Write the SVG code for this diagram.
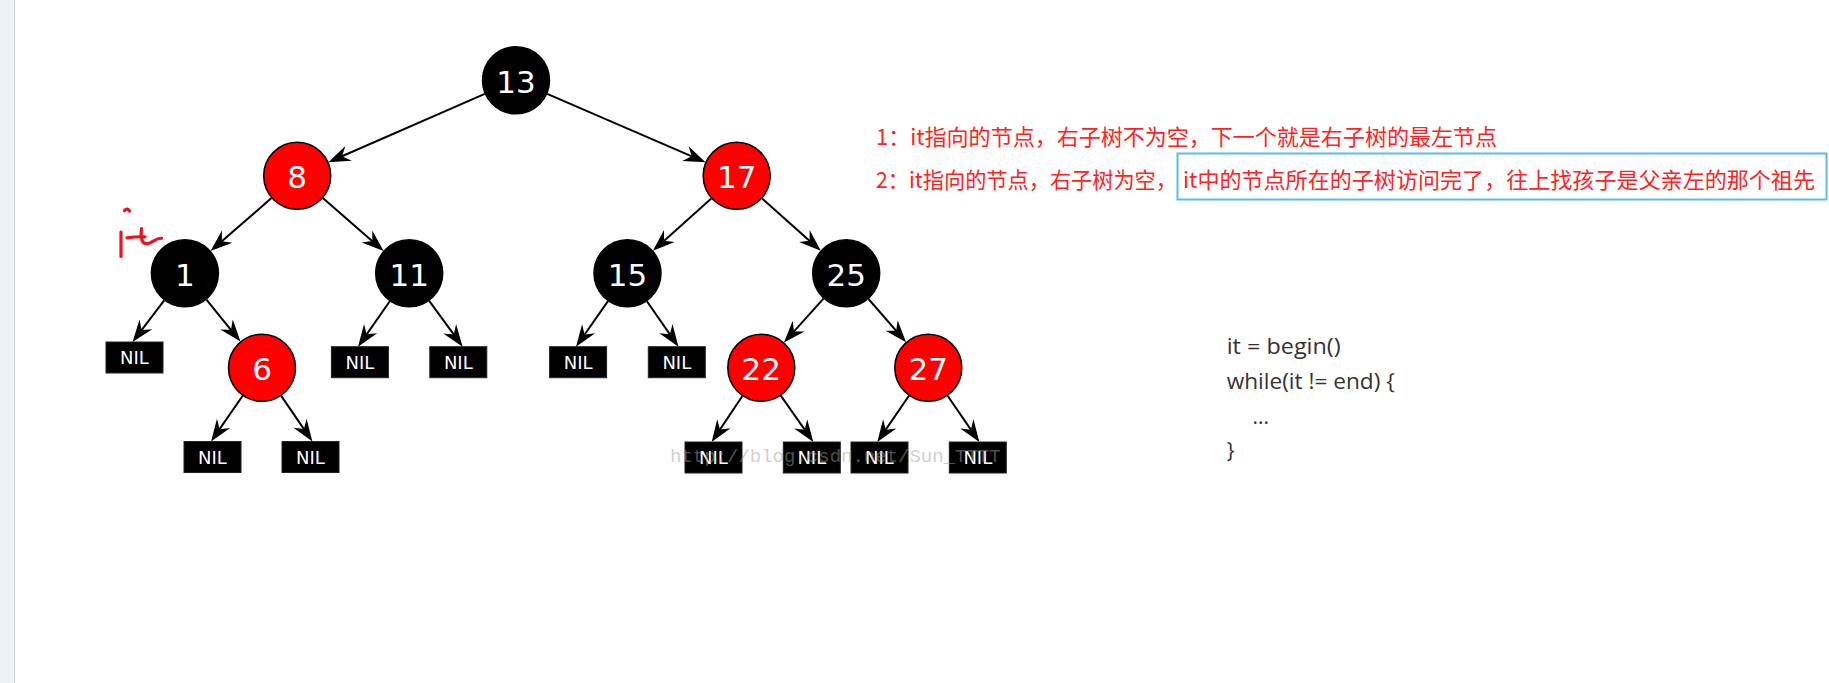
<svg xmlns="http://www.w3.org/2000/svg" width="1829" height="683" viewBox="0 0 1829 683">
<style>
.edge{stroke:#000;stroke-width:2;fill:none;marker-end:url(#arr)}
.blk{fill:#000;stroke:#000;stroke-width:1.5}
.red{fill:#f00;stroke:#000;stroke-width:1.5}
.lbl{font-family:"DejaVu Sans",sans-serif;font-size:31px;fill:#fff;text-anchor:middle}
.nil rect{fill:#000;stroke:#222;stroke-width:1}
.nil text{font-family:"DejaVu Sans",sans-serif;font-size:18px;fill:#fff;text-anchor:middle}
.note{font-family:"Noto Sans CJK SC","Noto Sans",sans-serif;font-size:22px;fill:#f22}
.code{font-family:"Open Sans","Noto Sans",sans-serif;font-size:21px;fill:#333}
.hand{fill:none;stroke:#e8141e;stroke-width:3.2;stroke-linecap:round;stroke-linejoin:round}
</style>
<defs>
<marker id="arr" markerUnits="userSpaceOnUse" viewBox="-23 -9 24 18" markerWidth="24" markerHeight="18" refX="-8" refY="0" orient="auto">
<path d="M0,0 L-22,-8 L-15,0 L-22,8 Z" fill="#000"/>
</marker>
</defs>
<rect x="0" y="0" width="1829" height="683" fill="#fff"/>
<rect x="0" y="0" width="14.5" height="683" fill="#edf1f8"/>
<line x1="14.5" y1="0" x2="14.5" y2="683" stroke="#cdd5dd" stroke-width="1"/>

<g id="connectors">
<line class="edge" x1="484.8" y1="93.9" x2="335.7" y2="159.0"/>
<line class="edge" x1="547.2" y1="93.8" x2="698.2" y2="159.1"/>
<line class="edge" x1="271.5" y1="198.1" x2="216.6" y2="245.8"/>
<line class="edge" x1="322.8" y1="198.1" x2="377.6" y2="245.7"/>
<line class="edge" x1="711.3" y1="198.4" x2="658.9" y2="245.4"/>
<line class="edge" x1="762.1" y1="198.4" x2="814.8" y2="245.4"/>
<line class="edge" x1="164.2" y1="300.3" x2="137.4" y2="335.6"/>
<line class="edge" x1="206.4" y1="299.7" x2="235.4" y2="335.3"/>
<line class="edge" x1="389.8" y1="301.2" x2="362.6" y2="340.1"/>
<line class="edge" x1="429.2" y1="300.8" x2="457.9" y2="340.2"/>
<line class="edge" x1="608" y1="301.1" x2="580.6" y2="340.2"/>
<line class="edge" x1="646.9" y1="301.2" x2="673.9" y2="340.1"/>
<line class="edge" x1="823.5" y1="298.6" x2="789.3" y2="336.6"/>
<line class="edge" x1="868.5" y1="299" x2="900.8" y2="336.1"/>
<line class="edge" x1="242.7" y1="395.7" x2="215.6" y2="434.9"/>
<line class="edge" x1="281.2" y1="395.9" x2="307.9" y2="434.9"/>
<line class="edge" x1="742.4" y1="396" x2="716.1" y2="435.4"/>
<line class="edge" x1="780.8" y1="395.6" x2="808.7" y2="435.4"/>
<line class="edge" x1="909" y1="395.8" x2="881.8" y2="435.4"/>
<line class="edge" x1="947.6" y1="395.8" x2="974.8" y2="435.4"/>
</g>

<g id="n13"><circle class="blk" cx="516" cy="80.3" r="33.5"/><text class="lbl" x="516" y="92.8">13</text></g>
<g id="n8"><circle class="red" cx="297.2" cy="175.8" r="33.5"/><text class="lbl" x="297.2" y="188.3">8</text></g>
<g id="n17"><circle class="red" cx="736.7" cy="175.8" r="33.5"/><text class="lbl" x="736.7" y="188.3">17</text></g>
<g id="n1"><circle class="blk" cx="184.9" cy="273.3" r="33.5"/><text class="lbl" x="184.9" y="285.8">1</text></g>
<g id="n11"><circle class="blk" cx="409.2" cy="273.3" r="33.5"/><text class="lbl" x="409.2" y="285.8">11</text></g>
<g id="n15"><circle class="blk" cx="627.5" cy="273.3" r="33.5"/><text class="lbl" x="627.5" y="285.8">15</text></g>
<g id="n25"><circle class="blk" cx="846.2" cy="273.3" r="33.5"/><text class="lbl" x="846.2" y="285.8">25</text></g>
<g id="n6"><circle class="red" cx="262" cy="367.8" r="33.5"/><text class="lbl" x="262" y="380.3">6</text></g>
<g id="n22"><circle class="red" cx="761.3" cy="367.8" r="33.5"/><text class="lbl" x="761.3" y="380.3">22</text></g>
<g id="n27"><circle class="red" cx="928.3" cy="367.8" r="33.5"/><text class="lbl" x="928.3" y="380.3">27</text></g>

<g id="nil1" class="nil"><rect x="106" y="342" width="57" height="31"/><text x="134.5" y="364">NIL</text></g>
<g id="nil2" class="nil"><rect x="184" y="441.5" width="57" height="31"/><text x="212.5" y="463.5">NIL</text></g>
<g id="nil3" class="nil"><rect x="282" y="441.5" width="57" height="31"/><text x="310.5" y="463.5">NIL</text></g>
<g id="nil4" class="nil"><rect x="331.4" y="346.7" width="57" height="31"/><text x="359.9" y="368.7">NIL</text></g>
<g id="nil5" class="nil"><rect x="429.8" y="346.7" width="57" height="31"/><text x="458.3" y="368.7">NIL</text></g>
<g id="nil6" class="nil"><rect x="549.6" y="346.7" width="57" height="31"/><text x="578.1" y="368.7">NIL</text></g>
<g id="nil7" class="nil"><rect x="648.3" y="346.7" width="57" height="31"/><text x="676.8" y="368.7">NIL</text></g>
<g id="nil8" class="nil"><rect x="685" y="442" width="57" height="31"/><text x="713.5" y="464">NIL</text></g>
<g id="nil9" class="nil"><rect x="783.3" y="442" width="57" height="31"/><text x="811.8" y="464">NIL</text></g>
<g id="nil10" class="nil"><rect x="851" y="442" width="57" height="31"/><text x="879.5" y="464">NIL</text></g>
<g id="nil11" class="nil"><rect x="949.3" y="442" width="57" height="31"/><text x="977.8" y="464">NIL</text></g>

<g id="watermark"><text x="670" y="461.5" font-family="Liberation Mono, monospace" font-size="19" fill="#a0a098" fill-opacity="0.5">http://blog.csdn.net/Sun_TTTT</text></g>

<g id="it-mark">
<path class="hand" d="M124.5,210.5 Q127.5,207.5 129.5,211"/>
<path class="hand" d="M121,232 L121,256.5"/>
<path class="hand" d="M127,237.8 Q135,236.5 145,236.8"/>
<path class="hand" d="M141.5,228.5 C140.5,238 141.5,245 148.5,243.5 C153.5,242 156.5,237.5 161.5,238.3"/>
</g>

<g id="notes">
<text class="note" x="876" y="145" textLength="621" lengthAdjust="spacingAndGlyphs">1：it指向的节点，右子树不为空，下一个就是右子树的最左节点</text>
<text class="note" x="876" y="188" textLength="301" lengthAdjust="spacingAndGlyphs">2：it指向的节点，右子树为空，</text>
<rect x="1177.5" y="153.5" width="649" height="46" fill="none" stroke="#5bbcea" stroke-width="2"/>
<text class="note" x="1183" y="188" textLength="632" lengthAdjust="spacingAndGlyphs">it中的节点所在的子树访问完了，往上找孩子是父亲左的那个祖先</text>
</g>

<g id="code">
<text class="code" x="1226.7" y="354" textLength="114" lengthAdjust="spacingAndGlyphs">it = begin()</text>
<text class="code" x="1226.7" y="389" textLength="168" lengthAdjust="spacingAndGlyphs">while(it != end) {</text>
<text class="code" x="1252.5" y="424">...</text>
<text class="code" x="1226.7" y="458">}</text>
</g>
</svg>
